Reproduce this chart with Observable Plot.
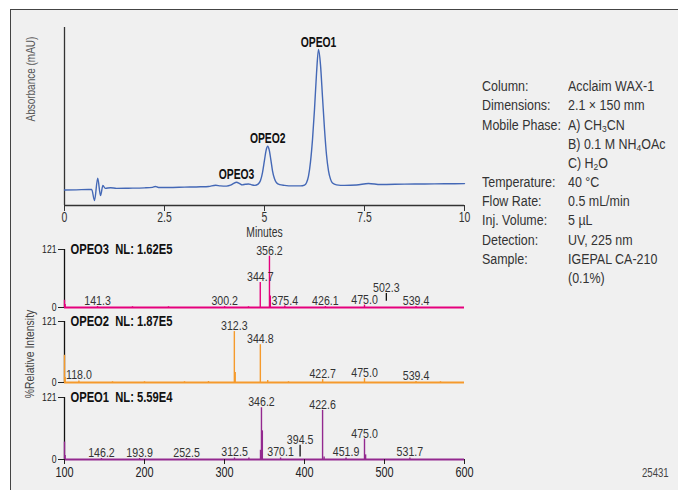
<!DOCTYPE html>
<html><head><meta charset="utf-8">
<script src="https://cdn.jsdelivr.net/npm/d3@7"></script>
<script src="https://cdn.jsdelivr.net/npm/@observablehq/plot@0.6"></script>
<style>
html,body{margin:0;padding:0;background:#fff;}
#wrap{position:relative;width:678px;height:490px;overflow:hidden;font-family:"Liberation Sans",Arial,sans-serif;}
#frame{position:absolute;left:10px;top:9px;width:668px;height:481px;background:#f0f0f0;border-left:1.5px solid #444;border-top:1.5px solid #444;box-sizing:border-box;}
.layer{position:absolute;left:0;}
.info{position:absolute;font-size:14px;color:#333;line-height:19.16px;white-space:nowrap;transform:scaleX(0.89);transform-origin:0 50%;}
.info sub{font-size:9.5px;vertical-align:-2px;line-height:0;}
#ylab2{position:absolute;left:29px;top:354px;transform:translate(-50%,-50%) rotate(-90deg) scaleX(0.8);font-size:13px;color:#444;white-space:nowrap;}
#code{position:absolute;left:642px;top:466px;font-size:12px;color:#444;transform:scaleX(0.8);transform-origin:0 50%;}
</style></head>
<body>
<div id="wrap"><div id="frame"></div></div>
<script>
// ---- Chromatogram (UV 225 nm) ----
const chromTime = [0,0.3,0.6,0.68,0.75,0.83,0.9,0.96,1.02,1.15,1.3,1.6,2.0,2.2,2.27,2.35,2.6,3.0,3.4,3.6,3.78,3.9,4.05,4.15,4.22,4.3,4.38,4.44,4.52,4.6,4.68,4.76,4.84,4.9,4.95,5.0,5.04,5.08,5.12,5.16,5.2,5.25,5.3,5.38,5.5,5.7,5.9,6.0,6.05,6.1,6.15,6.2,6.25,6.3,6.35,6.4,6.45,6.5,6.55,6.6,6.65,6.7,6.8,7.0,7.3,7.6,7.9,8.5,9.0,9.5,10];
const chromAbs  = [8.7,8.8,9.0,9.0,2.8,15.3,5.6,11.2,9.6,10.0,9.6,9.7,9.9,10.2,10.7,10.1,10.1,10.3,10.5,10.7,11.4,11.0,10.9,11.4,12.3,13.1,12.3,11.6,11.9,12.1,11.6,11.3,12.0,14.0,18.5,25.5,31.0,33.3,31.0,25.5,19.5,15.0,12.8,11.7,11.3,11.0,11.0,11.5,12.8,16.5,24.5,37,54,74,87.6,79,61,43,28.5,19.5,14.8,12.6,11.6,11.3,11.5,12.4,11.8,12.0,12.1,12.2,12.3];
const peakNames = ["OPEO3","OPEO2","OPEO1"];
const peakTimes = [4.3,5.08,6.35];
const timeTicks = [0,2.5,5,7.5,10];

// ---- Mass spectra (relative intensity) ----
const ms3Mz  = [100,100.8,141.3,185,230,300.2,330,344.7,356.2,357.3,375.4,426.1,475.0,539.4];
const ms3Int = [15,6,2,1.5,1.5,2,1.5,52,107,24,3,2,5,2];
const ms3Labels = [141.3,300.2,344.7,356.2,375.4,426.1,475.0,502.3,539.4];
const ms3MarkMz = [502.3], ms3MarkLo = [13], ms3MarkHi = [29];

const ms2Mz  = [100,100.8,118.0,160,200,250,280,312.3,313.4,344.8,354,380,422.7,475.0,539.4,570];
const ms2Int = [54,10,3,1.5,1.5,1.5,2,101,20,75,4,1.5,6,8,2,1.5];
const ms2Labels = [118.0,312.3,344.8,422.7,475.0,539.4];
const ms2MarkMz = [], ms2MarkLo = [], ms2MarkHi = [];

const ms1Mz  = [100,100.8,146.2,193.9,252.5,312.5,330.5,345.0,346.2,347.3,370.1,422.6,424.5,451.9,475.0,476.4,531.7];
const ms1Int = [34,8,2,2,2,3,3,18,101,56,3,96,5,3,40,9,3];
const ms1Labels = [146.2,193.9,252.5,312.5,346.2,370.1,394.5,422.6,451.9,475.0,531.7];
const ms1MarkMz = [394.5], ms1MarkLo = [5], ms1MarkHi = [28];

const panelTitles = ["OPEO3\u00a0\u00a0NL: 1.62E5","OPEO2\u00a0\u00a0NL: 1.87E5","OPEO1\u00a0\u00a0NL: 5.59E4"];
const panelColors = ["#e5007d","#f59a2c","#93298f"];
const mzTicks = [100,200,300,400,500,600];
const intTicks = [0,121];

// ---- Conditions text ----
const condLabels = ["Column:","Dimensions:","Mobile Phase:","","","Temperature:","Flow Rate:","Inj. Volume:","Detection:","Sample:",""];
const condValues = ["Acclaim WAX-1","2.1 × 150 mm","A) CH<sub>3</sub>CN","B) 0.1 M NH<sub>4</sub>OAc","C) H<sub>2</sub>O","40 °C","0.5 mL/min","5 µL","UV, 225 nm","IGEPAL CA-210","(0.1%)"];

const FONT = "'Liberation Sans',Arial,sans-serif";
const wrap = document.getElementById("wrap");
// condense SVG texts horizontally about their anchor (narrow typeface look)
function condense(svg, axisMap, sizeMap){
  svg.querySelectorAll("text").forEach(t=>{
    const g = t.closest("g[aria-label]");
    const lab = g ? g.getAttribute("aria-label") : "";
    let f = axisMap[lab];
    if (f === undefined) f = sizeMap[parseFloat(getComputedStyle(t).fontSize)];
    if (!f) return;
    const bb = t.getBBox();
    const anchor = getComputedStyle(t).textAnchor;
    const ax = anchor === "middle" ? bb.x + bb.width/2 : anchor === "end" ? bb.x + bb.width : bb.x;
    const tr = t.getAttribute("transform") || "";
    t.setAttribute("transform", `${tr} translate(${ax},0) scale(${f},1) translate(${-ax},0)`);
  });
}
function place(svg, top, axisMap, sizeMap){ svg.classList.add("layer"); svg.style.top = top + "px"; wrap.appendChild(svg); condense(svg, axisMap, sizeMap); }

// Chromatogram
const chrom = chromTime.map((t,i)=>({t, a: chromAbs[i]}));
const peakLabs = peakNames.map((n,i)=>({n, t: peakTimes[i], a: chromAbs[chromTime.indexOf(peakTimes[i])]}));
place(Plot.plot({
  width:678, height:240, marginLeft:64, marginRight:214, marginTop:27, marginBottom:35,
  style:{fontFamily:FONT, background:"transparent", overflow:"visible", color:"#222"},
  x:{domain:[0,10]}, y:{domain:[0,100], axis:null},
  marks:[
    Plot.ruleY([0], {stroke:"#333", strokeWidth:1.3}),
    Plot.ruleX([0], {stroke:"#333", strokeWidth:1.3}),
    Plot.axisX({ticks:timeTicks, tickSize:6, tickPadding:0, fontSize:14.5, label:null, tickFormat:d=>String(d), color:"#333"}),
    Plot.line(chrom, {x:"t", y:"a", stroke:"#4468b6", strokeWidth:1.4, curve:"monotone-x"}),
    Plot.text(peakLabs, {x:"t", y:"a", text:"n", lineAnchor:"bottom", dy:-3, fontWeight:"bold", fontSize:14, fill:"#111"}),
    Plot.text(["Minutes"], {frameAnchor:"bottom", dy:26.5, lineAnchor:"middle", fontSize:14.2, fill:"#333"}),
    Plot.text(["Absorbance (mAU)"], {frameAnchor:"left", dx:-34, dy:5, rotate:-90, fontSize:12.5, fill:"#555"})
  ]
}), 0, {"x-axis tick label":0.72}, {14:0.74, 14.2:0.73, 12.5:0.8});

function panel(mz, inten, labels, mkMz, mkLo, mkHi, idx, top, height, mt, mb, withAxis){
  const color = panelColors[idx];
  const bars = mz.map((m,i)=>({mz:m, v:inten[i]}));
  const mk = mkMz.map((m,i)=>({mz:m, lo:mkLo[i], hi:mkHi[i]}));
  const labY = m => { const i = mz.findIndex(v=>Math.abs(v-m)<0.05); if (i>=0) return inten[i]; const j = mkMz.indexOf(m); return j>=0 ? mkHi[j] : 0; };
  const labs = labels.map(m=>({mz:m, y:labY(m), s:m.toFixed(1)}));
  const marks = [
    Plot.ruleX([100], {y1:0, y2:121, stroke:"#111", strokeWidth:1.3}),
    Plot.axisY({ticks:intTicks, tickSize:6, tickPadding:2, fontSize:11.5, label:null, tickFormat:d=>String(d), color:"#222"}),
    Plot.ruleX(bars, {x:"mz", y1:0, y2:"v", stroke:color, strokeWidth:1.4}),
    Plot.ruleY([0], {stroke:color, strokeWidth:2.2}),
    Plot.ruleX(mk, {x:"mz", y1:"lo", y2:"hi", stroke:"#111", strokeWidth:1.3}),
    Plot.text(labs, {x:"mz", y:"y", text:"s", lineAnchor:"bottom", dy:-1.5, fontSize:12.5, fill:"#333"}),
    Plot.text([panelTitles[idx]], {frameAnchor:"top-left", dx:6, lineAnchor:"middle", fontSize:14, fontWeight:"bold", fill:"#111"})
  ];
  if (withAxis) marks.push(Plot.axisX({ticks:mzTicks, tickSize:5, tickPadding:3, fontSize:14, label:null, color:"#222"}));
  place(Plot.plot({
    width:678, height, marginLeft:64, marginRight:214, marginTop:mt, marginBottom:mb,
    style:{fontFamily:FONT, background:"transparent", overflow:"visible"},
    x:withAxis ? {domain:[100,600]} : {domain:[100,600], axis:null},
    y:{domain:[0,121]},
    marks
  }), top, {"x-axis tick label":0.78, "y-axis tick label":0.75}, {12.5:0.85, 14:0.8});
}
panel(ms3Mz, ms3Int, ms3Labels, ms3MarkMz, ms3MarkLo, ms3MarkHi, 0, 235, 80, 14, 8, false);
panel(ms2Mz, ms2Int, ms2Labels, ms2MarkMz, ms2MarkLo, ms2MarkHi, 1, 308, 80, 13, 6, false);
panel(ms1Mz, ms1Int, ms1Labels, ms1MarkMz, ms1MarkLo, ms1MarkHi, 2, 384, 106, 13, 31, true);

// Shared y label
const yl = document.createElement("div"); yl.id = "ylab2"; yl.textContent = "%Relative Intensity"; wrap.appendChild(yl);

// Conditions
condLabels.forEach((l,i)=>{
  const top = 77.3 + i*19.16;
  const a = document.createElement("div"); a.className="info"; a.style.left="482px"; a.style.top=top+"px"; a.textContent=l; wrap.appendChild(a);
  const b = document.createElement("div"); b.className="info"; b.style.left="568px"; b.style.top=top+"px"; b.innerHTML=condValues[i]; wrap.appendChild(b);
});
const code = document.createElement("div"); code.id="code"; code.textContent="25431"; wrap.appendChild(code);
</script>
</body></html>
